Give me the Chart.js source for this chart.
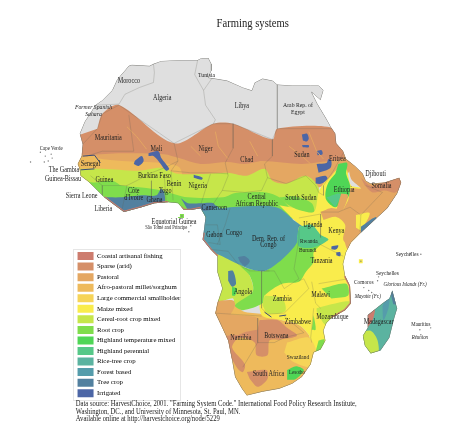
<!DOCTYPE html>
<html>
<head>
<meta charset="utf-8">
<title>Farming systems</title>
<script src="https://cdn.jsdelivr.net/npm/chart.js@4"></script>
<style>
  html, body { margin: 0; padding: 0; background: #fff; }
  canvas { display: block; filter: blur(0.3px); }
</style>
</head>
<body>
<canvas id="farmingMap" width="474" height="430"></canvas>
<script>
// legend
const categories = ['Coastal artisanal fishing', 'Sparse (arid)', 'Pastoral', 'Afro-pastoral millet/sorghum',
  'Large commercial smallholder', 'Maize mixed', 'Cereal-root crop mixed', 'Root crop',
  'Highland temperature mixed', 'Highland perennial', 'Rice-tree crop', 'Forest based', 'Tree crop', 'Irrigated'];
const categoryColors = ['#cd7c6e', '#d58f68', '#e4a762', '#eeba5c', '#f6d458', '#f9ec4c', '#c6e64a', '#7fdd4c',
  '#4fd656', '#56c888', '#5bb3a0', '#559cab', '#52809f', '#4c66a6'];
const nonDataColor = '#dfdfdf';

// outlines, in map units
const coast = [[130,62],[148,63],[152,61],[160,58],[180,57],[197,57],[201,55],[208,55],[211,61],[211,68],[208,75],[215,76],
  [227,78],[243,85],[252,88],[255,80],[263,76],[273,78],[278,82],[293,83],[302,83],[312,83],[320,83],[325,88],[322,98],
  [313,90],[319,102],[328,117],[333,126],[337,132],[338,142],[345,150],[348,158],[357,165],[365,173],[368,180],[373,183],
  [387,182],[402,177],[404,182],[400,193],[390,208],[377,220],[363,233],[353,243],[348,253],[345,265],[347,277],[352,287],
  [353,305],[347,312],[333,320],[328,325],[325,333],[327,343],[322,352],[315,355],[312,367],[303,380],[293,387],[280,392],
  [263,395],[247,399],[242,392],[235,380],[232,363],[228,343],[222,330],[215,315],[217,305],[222,290],[217,273],[217,257],
  [210,250],[202,240],[203,233],[205,217],[200,208],[190,210],[183,210],[177,203],[167,202],[153,203],[140,207],[122,212],
  [110,203],[102,197],[95,190],[87,182],[78,175],[77,168],[75,163],[79,155],[80,143],[77,132],[82,120],[93,103],[100,98],
  [110,88],[115,77],[127,63]];
const madagascar = [[395,292],[399,307],[400,310],[397,320],[392,340],[383,353],[373,356],[367,348],[365,338],[370,330],
  [370,317],[385,305],[392,300]];
const islands = [[37,151],[42,155],[48,153],[49,157],[41,161],[45,160],[27,161],[181,216],[179,219],[190,226],[188,232],
  [366,289],[371,292],[374,294],[380,282],[381,278],[424,255],[423,332],[434,330],[424,337],[413,254],[363,262]];

// farming system patches, back to front
const pastoralSahel = [[70,146],[350,146],[352,170],[320,187],[287,190],[200,190],[70,185]];
const afroWest = [[70,154],[120,160],[160,162],[178,166],[180,176],[70,180]];
const sparseNorth = [[95,127],[100,112],[117,103],[173,142],[213,122],[233,122],[273,138],[278,127],[337,127],[345,150],
  [345,158],[330,160],[303,163],[263,160],[245,163],[227,161],[200,163],[178,157],[163,153],[120,152],[72,152],[72,135]];
const senegalAfro = [[72,160],[90,154],[98,160],[100,168],[72,172]];
const cerealBand = [[70,168],[100,168],[137,170],[160,167],[177,173],[207,173],[227,172],[247,175],[265,168],[273,180],
  [287,183],[307,175],[320,187],[320,215],[280,210],[260,200],[230,200],[200,200],[160,195],[130,190],[100,185],[70,185]];
const rootBand = [[85,181],[92,182],[110,180],[120,185],[140,187],[160,190],[187,197],[223,197],[233,193],[243,192],
  [267,192],[280,197],[290,207],[300,218],[215,218],[170,218],[100,218],[80,190]];
const southBase = [[208,300],[235,305],[243,313],[263,316],[282,322],[300,327],[310,337],[312,345],[315,355],[325,360],
  [320,410],[230,410],[205,340]];
const maizeEast = [[280,205],[297,208],[315,212],[320,192],[325,183],[333,175],[340,168],[348,168],[353,185],[363,188],
  [352,205],[360,235],[365,250],[360,300],[335,325],[328,345],[322,358],[315,356],[312,345],[310,337],[300,327],[282,322],
  [262,317],[262,290],[280,260],[300,228],[290,215]];
const southSudanRoot = [[280,197],[295,196],[313,203],[315,212],[300,210],[288,204]];
const hornPastoral = [[347,150],[358,160],[373,180],[410,175],[410,190],[375,228],[358,245],[350,250],[347,243],[348,222],
  [343,215],[350,200],[353,188],[363,188],[353,178],[350,160]];
const kenyaLobe = [[322,212],[332,208],[343,210],[352,212],[358,220],[350,245],[345,240],[347,225],[338,217],[325,220]];
const somaliYellow = [[358,215],[372,213],[363,230],[358,228]];
const hornSparse = [[363,177],[373,185],[383,183],[402,174],[408,182],[398,192],[387,190],[375,192],[367,185]];
const ethiopiaGreen = [[340,163],[349,162],[348,173],[352,185],[350,197],[337,207],[328,200],[327,192],[330,182],[337,173]];
const ethiopiaPerennial = [[328,197],[340,193],[343,195],[337,207]];
const riftPastoral = [[343,193],[350,195],[342,215],[338,210]];
const angolaCereal = [[210,250],[225,256],[243,267],[250,277],[253,293],[235,307],[233,300],[220,303],[210,300]];
const rootSouth = [[240,267],[250,277],[253,293],[235,307],[243,312],[263,305],[265,297],[283,285],[300,283],[307,273],
  [315,263],[315,253],[325,243],[330,240],[300,240],[283,258],[265,272],[250,270]];
const zambiaCereal = [[265,297],[283,300],[286,313],[268,315],[263,307]];
const congoForest = [[196,208],[215,205],[220,208],[230,207],[277,207],[297,222],[305,228],[300,227],[298,243],[283,260],
  [265,272],[250,270],[238,265],[228,260],[217,255],[205,252],[192,235]];
const congoPatch = [[238,258],[245,257],[250,262],[245,267],[240,263]];
const lakesPerennial = [[300,227],[313,225],[322,235],[330,240],[315,248],[300,247],[298,237]];
const guineaTree = [[100,197],[120,197],[140,195],[155,195],[160,188],[163,192],[163,204],[150,210],[120,216],[100,205]];
const cameroonTree = [[180,198],[187,203],[200,203],[213,203],[215,208],[202,211],[187,210]];
const angolaTan = [[214,303],[233,302],[235,307],[228,318],[212,315]];
const namibiaTan = [[212,310],[228,316],[258,320],[260,332],[243,335],[232,342],[225,340],[212,325]];
const botswanaSparse = [[260,322],[278,322],[288,330],[298,338],[280,342],[270,343],[268,358],[257,358],[255,345],[243,340],
  [232,342],[243,335],[258,332]];
const namibSparse = [[226,338],[238,338],[232,350],[245,367],[243,375],[238,372],[225,350]];
const karooSparse = [[247,375],[267,373],[268,382],[258,390],[250,382]];
const swaziCommercial = [[288,345],[310,340],[318,355],[315,370],[295,365],[285,355]];
const lesothoGreen = [[288,373],[297,369],[305,373],[297,382],[288,383]];
const malawiGreen = [[315,317],[317,332],[313,332]];
const mozCereal = [[318,310],[348,303],[356,305],[333,322],[327,327],[318,313]];
const mozRoot = [[323,290],[348,285],[350,297],[333,300]];
const mozSouthRoot = [[320,343],[326,342],[323,354],[317,354]];
const angolaBlue = [[228,272],[233,272],[236,285],[232,288],[228,282]];
const angolaSpot = [[232,288],[237,290],[235,297],[232,297]];
const kenyaTree = [[363,227],[378,217],[379,222],[363,235]];
const madaBase = [[395,290],[402,310],[392,345],[383,358],[365,358],[362,335],[368,315],[385,302]];
const madaCereal = [[362,335],[373,333],[380,343],[380,358],[365,358]];
const madaCoastal = [[368,315],[377,310],[375,322],[368,332]];
const madaForest = [[388,300],[392,297],[391,310],[386,322],[385,308]];
const madaTree = [[392,290],[397,290],[402,306],[396,306]];
const malianDelta = [[147,152],[157,150],[160,157],[168,168],[165,170],[157,160],[152,155],[147,155]];
const malianNiger = [[133,160],[140,155],[142,160],[137,165],[132,163]];
const nigeriaIrrig = [[193,174],[202,177],[201,179],[193,177]];
const nileOne = [[303,133],[308,132],[310,137],[308,140],[304,139]];
const nileTwo = [[303,144],[310,144],[310,146],[304,146]];
const nileThree = [[318,150],[323,149],[324,153],[319,154]];
const gezira = [[318,163],[328,162],[330,158],[333,160],[332,167],[320,172]];
const upperNile = [[317,177],[327,175],[329,178],[323,183],[317,183]];
const tanzaniaIrrig = [[333,247],[340,246],[338,250],[333,250]];
const zanzibarIrrig = [[338,253],[342,253],[342,257],[338,256]];

const patches = [
  [pastoralSahel, 2], [afroWest, 3], [sparseNorth, 1], [senegalAfro, 3], [cerealBand, 6], [rootBand, 7], [southBase, 3],
  [maizeEast, 5], [southSudanRoot, 7], [hornPastoral, 2], [kenyaLobe, 2], [somaliYellow, 5], [hornSparse, 1],
  [ethiopiaGreen, 8], [ethiopiaPerennial, 9], [riftPastoral, 2], [angolaCereal, 6], [rootSouth, 7], [zambiaCereal, 6],
  [congoForest, 11], [congoPatch, 12], [lakesPerennial, 9], [guineaTree, 12], [cameroonTree, 12], [angolaTan, 2],
  [namibiaTan, 2], [botswanaSparse, 1], [namibSparse, 1], [karooSparse, 1], [swaziCommercial, 4], [lesothoGreen, 8],
  [malawiGreen, 7], [mozCereal, 6], [mozRoot, 7], [mozSouthRoot, 7], [angolaBlue, 12], [angolaSpot, 8], [kenyaTree, 12],
  [madaBase, 10], [madaCereal, 6], [madaCoastal, 0], [madaForest, 11], [madaTree, 12],
  [malianDelta, 13], [malianNiger, 13], [nigeriaIrrig, 13], [nileOne, 13], [nileTwo, 13], [nileThree, 13], [gezira, 13],
  [upperNile, 13], [tanzaniaIrrig, 13], [zanzibarIrrig, 13]
];

// thin coastal fishing rim
const rims = [
  [[102,197],[110,203],[122,212],[140,207],[153,203],[167,202]],
  [[180,207],[183,210],[190,210],[200,208]],
  [[203,233],[202,240],[210,250],[217,257]],
  [[347,277],[352,287],[353,305],[347,312],[333,320]]
];
const wadis = [
  [[310,130],[318,150],[325,158]], [[290,145],[303,155],[312,163]], [[125,125],[135,135],[145,148]],
  [[190,145],[200,155]], [[215,130],[218,145],[228,158]], [[250,140],[258,155]]
];
const senegalRiver = [[[80,155],[92,154],[98,162]], [[78,169],[92,168]], [[265,314],[272,319]], [[280,318],[287,317]]];

const borders = [
  [[152,61],[153,70],[152,80],[138,85],[123,92],[117,102]], [[95,103],[117,102]], [[197,57],[194,72],[203,88],[212,75]],
  [[203,88],[205,103],[215,118],[213,122]], [[278,82],[278,127],[337,127]], [[117,103],[173,142],[213,122],[233,122],[273,138],[278,127]],
  [[80,143],[95,127],[100,112],[117,103]], [[127,113],[132,150],[100,150],[84,155]],
  [[173,142],[177,160],[163,167],[150,172],[135,180],[125,185],[120,210]], [[177,160],[170,170],[190,172],[210,172],[228,173]],
  [[233,122],[233,147],[225,162],[228,175],[222,190],[212,205]], [[222,190],[245,192],[262,190],[268,177]],
  [[273,138],[273,155],[265,163],[268,177],[287,183],[307,175],[317,185],[320,192]], [[345,152],[335,170],[325,185],[325,195],[320,192]],
  [[322,212],[340,212],[352,207],[363,215],[362,232]], [[368,185],[385,192],[363,215]], [[300,218],[322,214],[322,238]],
  [[312,240],[345,257]], [[205,225],[217,225],[220,245],[208,243]], [[230,208],[225,225],[217,245]],
  [[210,250],[228,252],[238,265],[250,272],[270,272]], [[262,272],[275,272],[285,290],[300,280],[295,270],[300,240],[300,225]],
  [[262,272],[262,310],[268,316],[285,315],[300,300],[310,290],[305,280],[300,282]], [[313,283],[317,305],[322,310]],
  [[320,285],[350,280]], [[315,310],[312,340],[313,345]], [[215,315],[262,318]], [[258,320],[258,345],[243,370]],
  [[258,345],[275,345],[285,340],[305,335]], [[285,318],[305,335]], [[150,180],[150,200]], [[163,175],[165,202]],
  [[170,170],[172,200]], [[210,173],[200,205]], [[260,192],[262,207]], [[88,175],[100,185],[100,197]], [[100,185],[125,185]]
];

// place names: text, x, y, font size, italic
const mapLabels = [
  ['Morocco',127,79,7.5], ['Algeria',161,96,7.5], ['Tunisia',206,72,7], ['Libya',242,104,7.5],
  ['Arab Rep. of',299,103,7], ['Egypt',299,110,7], ['Former Spanish',91,105,7,true], ['Sahara',91,112,7,true],
  ['Mauritania',106,137,7.5], ['Mali',155,148,7.5], ['Niger',205,148,7.5], ['Chad',247,159,7.5], ['Sudan',303,154,7.5],
  ['Eritrea',339,158,7.5], ['Djibouti',378,173,7.5], ['Somalia',384,185,7.5], ['Ethiopia',346,190,7.5],
  ['South Sudan',302,198,7.5], ['Central',257,197,7.5], ['African Republic',257,204,7.5], ['Cape Verde',48,147,6],
  ['The Gambia',61,169,7.5], ['Guinea-Bissau',60,178,7.5], ['Senegal',88,163,7.5], ['Guinea',102,179,7.5],
  ['Burkina Faso',153,175,7.5], ['Benin',173,183,7.5], ['Nigeria',197,185,7.5], ['Sierra Leone',79,196,7.5],
  ['Côte',132,191,7.5], ["d'Ivoire",132,198,7.5], ['Ghana',153,200,7.5], ['Togo',164,191,7.5], ['Liberia',101,209,7.5],
  ['Cameroon',214,208,7.5], ['Equatorial Guinea',173,222,7.5], ['São Tomé and Príncipe',165,228,5.5], ['Gabon',214,235,7.5],
  ['Congo',234,233,7.5], ['Dem. Rep. of',269,239,7.5], ['Congo',269,246,7.5], ['Uganda',314,225,7.5], ['Kenya',338,231,7.5],
  ['Rwanda',310,242,6.5], ['Burundi',309,251,6.5], ['Tanzania',323,262,7.5], ['Angola',243,293,7.5], ['Zambia',283,301,7.5],
  ['Malawi',322,297,7.5], ['Mozambique',334,319,7.5], ['Zimbabwe',299,324,7.5], ['Namibia',241,340,7.5],
  ['Botswana',277,338,7.5], ['Swaziland',299,360,6.5], ['South Africa',269,377,7.5], ['Lesotho',298,375,6],
  ['Madagascar',381,324,7.5], ['Seychelles',410,255,6.5], ['Seychelles',390,274,6.5], ['Comoros',366,284,6.5],
  ['Glorious Islands (Fr.)',408,286,6,true], ['Mayotte (Fr.)',370,298,6,true], ['Mauritius',424,326,6], ['Réunion',423,340,6,true]
];
const chartTitle = 'Farming systems';
const sourceLines = ['Data source: HarvestChoice, 2001. "Farming System Code." International Food Policy Research Institute,',
  'Washington, DC., and University of Minnesota, St. Paul, MN.', 'Available online at http://harvestchoice.org/node/5229'];

const serif = '"Liberation Serif", serif';

function shape(points, color, order) {
  return { data: points, fill: 'shape', backgroundColor: color, borderWidth: 0, pointRadius: 0, tension: 0.3, order: order };
}
function stroke(points, color, width, order) {
  return { data: points, fill: false, borderColor: color, borderWidth: width, pointRadius: 0, order: order };
}

// later entries get a smaller order so they paint on top
let order = 1000;
const datasets = [shape(coast, nonDataColor, order--), shape(madagascar, nonDataColor, order--)];
datasets[0].tension = 0;
datasets[1].tension = 0;
patches.forEach(([points, cat]) => datasets.push(shape(points, categoryColors[cat], order--)));
wadis.forEach(w => datasets.push(stroke(w, categoryColors[2], 0.9, order--)));
rims.forEach(r => datasets.push(stroke(r, categoryColors[0], 2.6, order--)));
senegalRiver.forEach(r => datasets.push(stroke(r, '#3a4a78', 1, order--)));
borders.forEach(b => datasets.push(stroke(b, 'rgba(95,95,85,0.45)', 0.5, order--)));
datasets.push(stroke(coast.concat([coast[0]]), 'rgba(110,110,105,0.8)', 1, order--));
datasets.push(stroke(madagascar.concat([madagascar[0]]), 'rgba(110,110,105,0.8)', 1, order--));
datasets.push({ data: islands, showLine: false, pointRadius: 0.7, pointBackgroundColor: '#777', pointBorderWidth: 0, order: order-- });

// land only: farming patches may overshoot the shoreline
const landClip = {
  id: 'landClip',
  beforeDatasetsDraw(chart) {
    const { ctx, scales: { x, y } } = chart;
    ctx.save();
    ctx.beginPath();
    [coast, madagascar].forEach(outline => {
      outline.forEach(([px, py], i) => {
        if (i === 0) ctx.moveTo(x.getPixelForValue(px), y.getPixelForValue(py));
        else ctx.lineTo(x.getPixelForValue(px), y.getPixelForValue(py));
      });
      ctx.closePath();
    });
    islands.forEach(([px, py]) => ctx.rect(x.getPixelForValue(px) - 2, y.getPixelForValue(py) - 2, 4, 4));
    ctx.clip();
  },
  afterDatasetsDraw(chart) {
    chart.ctx.restore();
  }
};

// legend sits on top of the map's lower left, with its white card behind it
const legendPlacer = {
  id: 'legendPlacer',
  afterLayout(chart) {
    const legend = chart.legend;
    const h = legend.height;
    const w = legend.width;
    legend.left = 75;
    legend.right = 75 + w;
    legend.top = 249.5;
    legend.bottom = 249.5 + h;
    legend.adjustHitBoxes();
  },
  beforeDraw(chart) {
    const { ctx } = chart;
    ctx.save();
    ctx.fillStyle = '#fff';
    ctx.strokeStyle = '#e6e6e6';
    ctx.lineWidth = 1;
    ctx.fillRect(73, 249, 107, 151);
    ctx.strokeRect(73.5, 249.5, 107, 151);
    ctx.restore();
  }
};

// reference face is narrow, so type is squeezed horizontally
function narrowText(ctx, text, x, y, squeeze) {
  ctx.save();
  ctx.translate(x, y);
  ctx.scale(squeeze, 1);
  ctx.fillText(text, 0, 0);
  ctx.restore();
}

const textLayer = {
  id: 'textLayer',
  afterDraw(chart) {
    const { ctx, scales: { x, y } } = chart;
    ctx.save();
    ctx.fillStyle = '#222';
    ctx.textAlign = 'center';
    ctx.textBaseline = 'middle';
    mapLabels.forEach(([text, px, py, size, italic]) => {
      ctx.font = (italic ? 'italic ' : '') + size + 'px ' + serif;
      narrowText(ctx, text, x.getPixelForValue(px), y.getPixelForValue(py), 0.82);
    });
    ctx.font = '12.5px ' + serif;
    narrowText(ctx, chartTitle, x.getPixelForValue(253), y.getPixelForValue(20), 0.85);
    ctx.textAlign = 'left';
    ctx.font = '7.8px ' + serif;
    sourceLines.forEach((line, i) => {
      narrowText(ctx, line, x.getPixelForValue(73), y.getPixelForValue(408 + i * 7.6), 0.85);
    });
    ctx.restore();
  }
};

const chart = new Chart(document.getElementById('farmingMap'), {
  type: 'line',
  data: { datasets: datasets },
  plugins: [landClip, legendPlacer, textLayer],
  options: {
    responsive: false,
    animation: false,
    layout: { padding: 0 },
    scales: {
      x: { type: 'linear', min: 0, max: 474, display: false },
      y: { type: 'linear', min: 0, max: 430, reverse: true, display: false }
    },
    plugins: {
      tooltip: { enabled: false },
      title: { display: false },
      legend: {
        position: 'chartArea',
        align: 'start',
        onClick: null,
        labels: {
          boxWidth: 16,
          boxHeight: 8,
          padding: 2.55,
          color: '#444',
          font: { family: serif, size: 6.8 },
          generateLabels: () => categories.map((name, i) => ({
            text: name, fillStyle: categoryColors[i], strokeStyle: categoryColors[i], lineWidth: 0, datasetIndex: i
          }))
        }
      }
    }
  }
});
</script>
</body>
</html>
